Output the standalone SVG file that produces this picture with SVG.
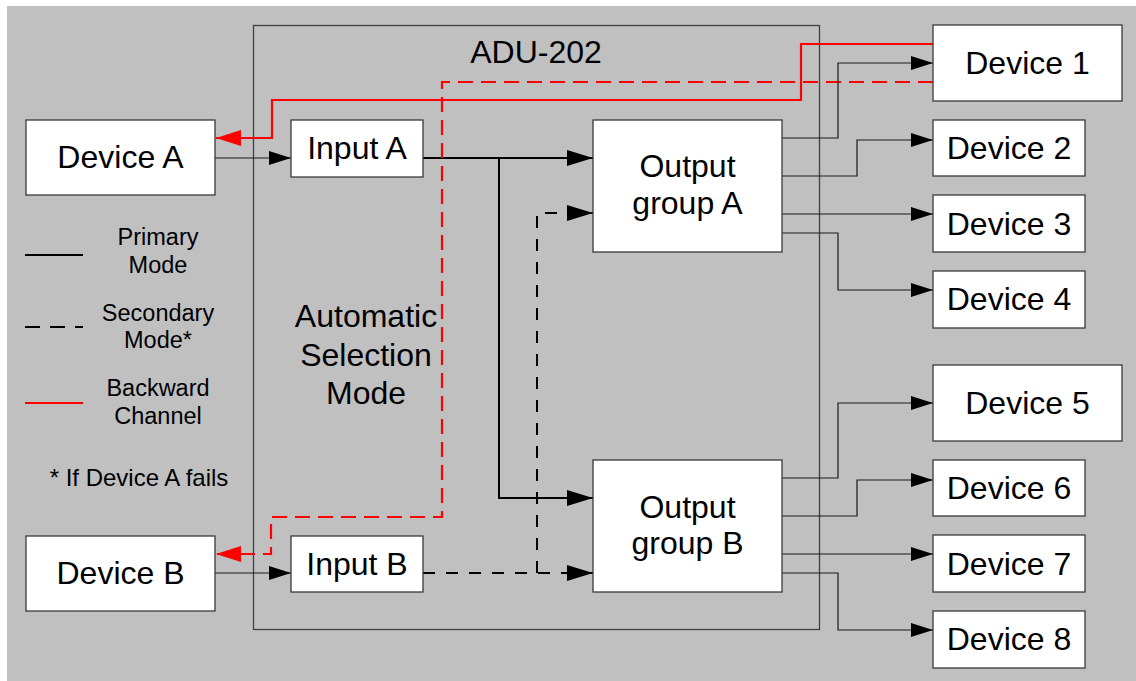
<svg xmlns="http://www.w3.org/2000/svg" width="1136" height="681" viewBox="0 0 1136 681">
<style>
.box{fill:#fff;stroke:#3a3a3a;stroke-width:1.3}
.t{font-family:"Liberation Sans",Arial,sans-serif;font-size:32px;fill:#000;text-anchor:middle}
.s{font-family:"Liberation Sans",Arial,sans-serif;font-size:23.5px;fill:#000;text-anchor:middle}
.thin{fill:none;stroke:#1a1a1a;stroke-width:1.2}
.prim{fill:none;stroke:#000;stroke-width:2}
.sec{fill:none;stroke:#000;stroke-width:2;stroke-dasharray:12 11}
.red{fill:none;stroke:#f00;stroke-width:2.2}
.redd{fill:none;stroke:#f00;stroke-width:2.2;stroke-dasharray:15 8}
</style>
<defs>
<marker id="aThin" markerUnits="userSpaceOnUse" viewBox="0 0 22 14" markerWidth="22" markerHeight="14" refX="22" refY="7" orient="auto"><path d="M0,0 L22,7 L0,14 Z" fill="#000"/></marker>
<marker id="aBig" markerUnits="userSpaceOnUse" viewBox="0 0 26 16" markerWidth="26" markerHeight="16" refX="26" refY="8" orient="auto"><path d="M0,0 L26,8 L0,16 Z" fill="#000"/></marker>
<marker id="aRed" markerUnits="userSpaceOnUse" viewBox="0 0 25 16" markerWidth="25" markerHeight="16" refX="25" refY="8" orient="auto"><path d="M0,0 L25,8 L0,16 Z" fill="#f00"/></marker>
</defs>
<rect x="7" y="6" width="1129" height="675" fill="#c0c0c0"/>
<g id="adu202">
<rect x="253.5" y="25.5" width="566" height="604" fill="none" stroke="#404040" stroke-width="1.3"/>
<text class="t" x="536" y="63">ADU-202</text>
<text class="t" x="366" y="327">Automatic</text>
<text class="t" x="366" y="366">Selection</text>
<text class="t" x="366" y="404">Mode</text>
</g>
<g id="legend">
<line x1="25" y1="255" x2="83" y2="255" stroke="#000" stroke-width="2"/>
<text class="s" x="158" y="245">Primary</text>
<text class="s" x="158" y="273">Mode</text>
<line x1="25" y1="327" x2="83" y2="327" stroke="#000" stroke-width="2" stroke-dasharray="15 10"/>
<text class="s" x="158" y="321">Secondary</text>
<text class="s" x="158" y="348">Mode*</text>
<line x1="25" y1="403" x2="83" y2="403" stroke="#f00" stroke-width="2"/>
<text class="s" x="158" y="396">Backward</text>
<text class="s" x="158" y="424">Channel</text>
<text class="s" x="139" y="486" style="font-size:24px">* If Device A fails</text>
</g>
<g id="connectors">
<path class="thin" d="M215,158 H291" marker-end="url(#aThin)"/>
<path class="thin" d="M215,573 H291" marker-end="url(#aThin)"/>
<path class="prim" d="M423,158 H593" marker-end="url(#aBig)"/>
<path class="prim" d="M499,158 V498 H593" marker-end="url(#aBig)"/>
<path class="sec" d="M423,573 H593" marker-end="url(#aBig)"/>
<path class="sec" d="M537,573 V213 H593" marker-end="url(#aBig)"/>
<path class="red" d="M933,44 H801 V100 H272 V138 H216" marker-end="url(#aRed)"/>
<path class="redd" d="M933,82 H442 V517 H271 V554 H216" marker-end="url(#aRed)"/>
<path class="thin" d="M782,138 H838 V63 H933" marker-end="url(#aThin)"/>
<path class="thin" d="M782,176 H857 V140 H933" marker-end="url(#aThin)"/>
<path class="thin" d="M782,214 H933" marker-end="url(#aThin)"/>
<path class="thin" d="M782,233 H838 V290 H933" marker-end="url(#aThin)"/>
<path class="thin" d="M782,478 H838 V403 H933" marker-end="url(#aThin)"/>
<path class="thin" d="M782,516 H857 V480 H933" marker-end="url(#aThin)"/>
<path class="thin" d="M782,554 H933" marker-end="url(#aThin)"/>
<path class="thin" d="M782,573 H838 V630 H933" marker-end="url(#aThin)"/>
</g>
<g id="deviceA"><rect class="box" x="26" y="120" width="189" height="75"/><text class="t" x="120.5" y="168">Device A</text></g>
<g id="deviceB"><rect class="box" x="26" y="536" width="189" height="75"/><text class="t" x="120.5" y="584">Device B</text></g>
<g id="inputA"><rect class="box" x="291" y="120" width="132" height="57"/><text class="t" x="357" y="159">Input A</text></g>
<g id="inputB"><rect class="box" x="291" y="536" width="132" height="56"/><text class="t" x="357" y="575">Input B</text></g>
<g id="outputA"><rect class="box" x="593" y="120" width="189" height="132"/><text class="t" x="687.5" y="177">Output</text><text class="t" x="687.5" y="214">group A</text></g>
<g id="outputB"><rect class="box" x="593" y="460" width="189" height="132"/><text class="t" x="687.5" y="518">Output</text><text class="t" x="687.5" y="554">group B</text></g>
<g id="device1"><rect class="box" x="933" y="25" width="189" height="76"/><text class="t" x="1027.5" y="74">Device 1</text></g>
<g id="device2"><rect class="box" x="933" y="120" width="152" height="56"/><text class="t" x="1009" y="159">Device 2</text></g>
<g id="device3"><rect class="box" x="933" y="195" width="152" height="57"/><text class="t" x="1009" y="235">Device 3</text></g>
<g id="device4"><rect class="box" x="933" y="271" width="152" height="57"/><text class="t" x="1009" y="310">Device 4</text></g>
<g id="device5"><rect class="box" x="933" y="365" width="189" height="76"/><text class="t" x="1027.5" y="414">Device 5</text></g>
<g id="device6"><rect class="box" x="933" y="460" width="152" height="56"/><text class="t" x="1009" y="499">Device 6</text></g>
<g id="device7"><rect class="box" x="933" y="535" width="152" height="57"/><text class="t" x="1009" y="575">Device 7</text></g>
<g id="device8"><rect class="box" x="933" y="611" width="152" height="57"/><text class="t" x="1009" y="650">Device 8</text></g>
</svg>
